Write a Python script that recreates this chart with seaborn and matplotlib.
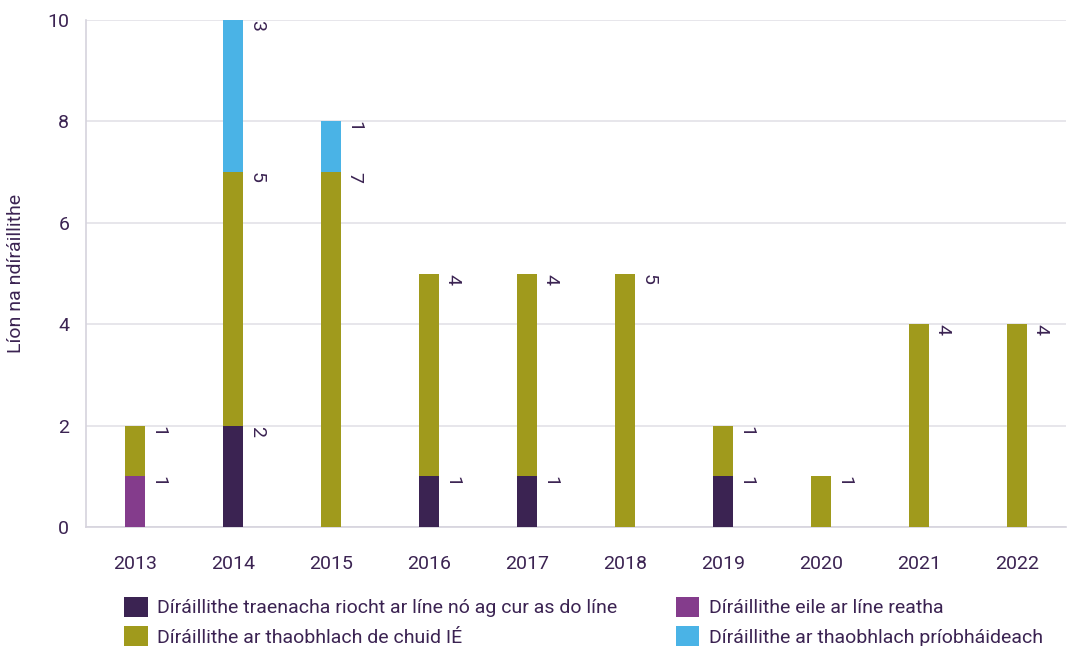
import numpy as np
import pandas as pd
import matplotlib
matplotlib.use("Agg")
import matplotlib.pyplot as plt
import seaborn as sns
from matplotlib.patches import Patch

# =====================================================
# DATA
# =====================================================

years = ["2013", "2014", "2015", "2016", "2017", "2018", "2019", "2020", "2021", "2022"]

series_names = [
    "Díráillithe traenacha riocht ar líne nó ag cur as do líne",
    "Díráillithe eile ar líne reatha",
    "Díráillithe ar thaobhlach de chuid IÉ",
    "Díráillithe ar thaobhlach príobháideach",
]

train_running = [0, 2, 0, 1, 1, 0, 1, 0, 0, 0]
other_running = [1, 0, 0, 0, 0, 0, 0, 0, 0, 0]
ie_siding = [1, 5, 7, 4, 4, 5, 1, 1, 4, 4]
private_siding = [0, 3, 1, 0, 0, 0, 0, 0, 0, 0]

series_values = [train_running, other_running, ie_siding, private_siding]
colors = ["#3b2352", "#843c8c", "#a09a1c", "#4ab3e6"]

TEXT = "#3b2352"
GRID = "#e3e1e8"

# =====================================================
# STYLE
# =====================================================

sns.set_style("white")
plt.rcParams["font.family"] = ["Roboto", "DejaVu Sans"]
plt.rcParams["text.color"] = TEXT
plt.rcParams["axes.labelcolor"] = TEXT
plt.rcParams["xtick.color"] = TEXT
plt.rcParams["ytick.color"] = TEXT

fig = plt.figure(figsize=(10.78, 6.46), dpi=100)
ax = fig.add_axes([0.0798, 0.184, 0.909, 0.785])

# =====================================================
# STACKED BARS
# =====================================================

bottom = np.zeros(len(years))
bar_w = 0.2

for name, vals, col in zip(series_names, series_values, colors):
    df = pd.DataFrame({"year": years, "value": vals})
    sns.barplot(
        data=df,
        x="year",
        y="value",
        color=col,
        width=bar_w,
        bottom=bottom,
        saturation=1,
        linewidth=0,
        ax=ax,
        zorder=3,
    )
    tops = bottom + np.array(vals)
    for i, v in enumerate(vals):
        if v > 0:
            ax.text(
                i + bar_w / 2 + 0.05,
                tops[i],
                str(v),
                rotation=-90,
                ha="left",
                va="top",
                fontsize=14,
                color=TEXT,
            )
    bottom = tops

# =====================================================
# AXES
# =====================================================

ax.set_xlim(-0.5, 9.5)
ax.set_ylim(0, 10)
ax.set_yticks([0, 2, 4, 6, 8, 10])
ax.yaxis.grid(True, color=GRID, linewidth=1.2, zorder=0)
ax.set_axisbelow(True)

for side in ["top", "right"]:
    ax.spines[side].set_visible(False)
for side in ["left", "bottom"]:
    ax.spines[side].set_color("#d6d3dd")
    ax.spines[side].set_linewidth(1.2)

ax.tick_params(axis="both", length=0, labelsize=14)
ax.tick_params(axis="x", pad=20)
ax.tick_params(axis="y", pad=12)

ax.set_xlabel("")
ax.set_ylabel("Líon na ndíráillithe", fontsize=14, labelpad=16)

# =====================================================
# LEGEND
# =====================================================

# matplotlib fills legend columns first, so reorder to read row by row
order = [0, 2, 1, 3]
handles = [Patch(facecolor=colors[k], edgecolor="none") for k in order]
labels = [series_names[k] for k in order]
fig.legend(
    handles,
    labels,
    loc="lower left",
    bbox_to_anchor=(0.099, -0.028),
    ncol=2,
    frameon=False,
    fontsize=14,
    handlelength=1.2,
    handleheight=1.2,
    handletextpad=0.5,
    columnspacing=3.0,
    labelspacing=0.45,
)

plt.savefig("out.png", dpi=100)
plt.close()
